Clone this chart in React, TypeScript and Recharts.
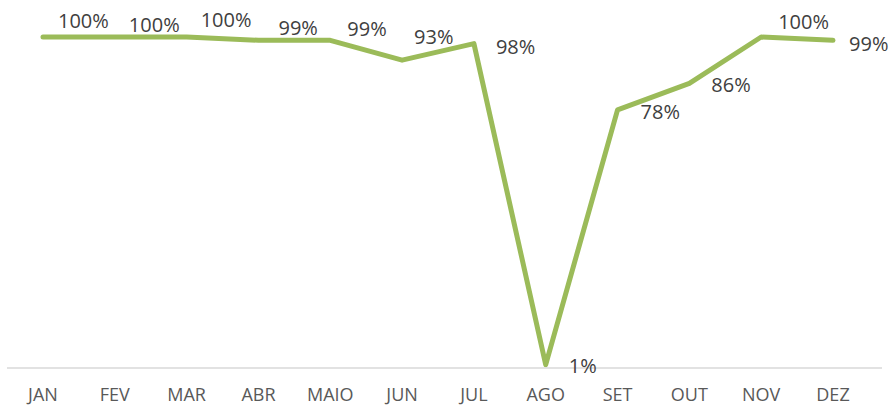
import React from "react";
import { LineChart, Line, XAxis, YAxis, LabelList } from "recharts";

const months = ["JAN", "FEV", "MAR", "ABR", "MAIO", "JUN", "JUL", "AGO", "SET", "OUT", "NOV", "DEZ"];
const values = [100, 100, 100, 99, 99, 93, 98, 1, 78, 86, 100, 99];

// label placement around each point (dx, dy), like the hand-moved labels of the original
const labelOffsets = [
  [15, -17],
  [14, -13],
  [14, -18],
  [20, -13],
  [17, -12],
  [12, -24],
  [22, 3],
  [23, 1],
  [23, 2],
  [22, 1],
  [17, -16],
  [16, 3],
];

const data = months.map((m, i) => ({ month: m, value: values[i] }));

const FONT = "'Open Sans', sans-serif";

const renderLabel = (props: any) => {
  const { x, y, index, value } = props;
  const off = labelOffsets[index] || [15, -15];
  return (
    <text
      x={x + off[0]}
      y={y + off[1]}
      dominantBaseline="central"
      textAnchor="start"
      fill="#404040"
      fontSize={20}
      fontFamily={FONT}
    >
      {value}%
    </text>
  );
};

const Chart = () => {
  return (
    <div style={{ position: "absolute", left: 0, top: 0, width: 891, height: 407, background: "#fff" }}>
      <LineChart
        width={891}
        height={407}
        data={data}
        margin={{ top: 37, right: 9, bottom: 9, left: 7 }}
      >
        <XAxis
          dataKey="month"
          height={30}
          padding={{ left: 36, right: 49 }}
          axisLine={{ stroke: "#d9d9d9", strokeWidth: 1.5 }}
          tickLine={false}
          tickSize={0}
          tickMargin={20}
          interval={0}
          tick={{ fill: "#595959", fontSize: 18, fontFamily: FONT }}
        />
        <YAxis hide domain={[0, 100]} />
        <Line
          type="linear"
          dataKey="value"
          stroke="#9bbb59"
          strokeWidth={5}
          strokeLinecap="round"
          strokeLinejoin="round"
          dot={false}
          activeDot={false}
          isAnimationActive={false}
        >
          <LabelList dataKey="value" content={renderLabel} />
        </Line>
      </LineChart>
    </div>
  );
};

export default function App() {
  return <Chart />;
}
